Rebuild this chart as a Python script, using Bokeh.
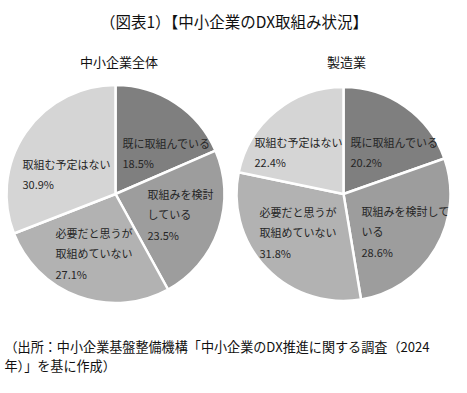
import math
from bokeh.plotting import figure
from bokeh.models import Range1d, ColumnDataSource
from bokeh.core.properties import value
from bokeh.embed import file_html
from bokeh.resources import INLINE

# ---- data ----
title = "（図表1）【中小企業のDX取組み状況】"
pie_titles = ["中小企業全体", "製造業"]
categories = ["既に取組んでいる", "取組みを検討している", "必要だと思うが取組めていない", "取組む予定はない"]
values_all = [18.5, 23.5, 27.1, 30.9]
values_mfg = [20.2, 28.6, 31.8, 22.4]
colors = ["#7f7f7f", "#9d9d9d", "#b2b2b2", "#d5d5d5"]
# label line wrapping as shown in each pie
wrap_all = [["既に取組んでいる"], ["取組みを検討", "している"], ["必要だと思うが", "取組めていない"], ["取組む予定はない"]]
wrap_mfg = [["既に取組んでいる"], ["取組みを検討して", "いる"], ["必要だと思うが", "取組めていない"], ["取組む予定はない"]]
source_lines = ["（出所：中小企業基盤整備機構「中小企業のDX推進に関する調査（2024",
                "年）」を基に作成）"]

W, H = 451, 377
FONT = value("Noto Sans CJK JP")

p = figure(width=W, height=H, output_backend="svg", toolbar_location=None,
           x_range=Range1d(0, W), y_range=Range1d(0, H),
           min_border=0)
p.axis.visible = False
p.grid.visible = False
p.outline_line_color = None
p.background_fill_color = "white"
p.border_fill_color = "white"

def Y(y_img):
    # convert y measured downward from the top into plot y (up)
    return H - y_img

# layout
pies = [
    dict(values=values_all, wrap=wrap_all, cx=115, cy=193.5, r=109, title_x=118.5,
         anchors=[(122, 142), (147, 193), (55, 232), (22, 163)]),
    dict(values=values_mfg, wrap=wrap_mfg, cx=343, cy=193.5, r=107, title_x=346,
         anchors=[(350, 141), (361, 210), (259, 211), (254, 141)]),
]
LINE = 20.5

for i, pie in enumerate(pies):
    vals = pie["values"]
    total = sum(vals)
    starts, ends = [], []
    cum = 0.0
    for v in vals:
        a0 = math.pi / 2 - 2 * math.pi * cum / total
        cum += v
        a1 = math.pi / 2 - 2 * math.pi * cum / total
        starts.append(a0)
        ends.append(a1)
    src = ColumnDataSource(dict(start=starts, end=ends, color=colors))
    p.wedge(x=pie["cx"], y=Y(pie["cy"]), radius=pie["r"], start_angle="start", end_angle="end",
            direction="clock", fill_color="color", line_color="white", line_width=2.5, source=src)

    tx, ty, tt = [], [], []
    for (ax, ay), lines, v in zip(pie["anchors"], pie["wrap"], vals):
        for k, ln in enumerate(lines + [f"{v:.1f}%"]):
            tx.append(ax)
            ty.append(Y(ay + k * LINE))
            tt.append(ln)
    p.text(x=tx, y=ty, text=tt, text_font=FONT, text_font_size="11px",
           text_color="#262626", text_align="left", text_baseline="middle")

    p.text(x=[pie["title_x"]], y=[Y(61)], text=[pie_titles[i]], text_font=FONT,
           text_font_size="13px", text_color="#111111", text_align="center", text_baseline="middle")

p.text(x=[233.5], y=[Y(20)], text=[title], text_font=FONT, text_font_size="15.5px",
       text_color="#111111", text_align="center", text_baseline="middle")

p.text(x=[4, 4], y=[Y(346), Y(365)], text=source_lines, text_font=FONT,
       text_font_size="13.1px", text_color="#111111", text_align="left", text_baseline="middle")

open("out.html", "w").write(file_html(p, INLINE))
